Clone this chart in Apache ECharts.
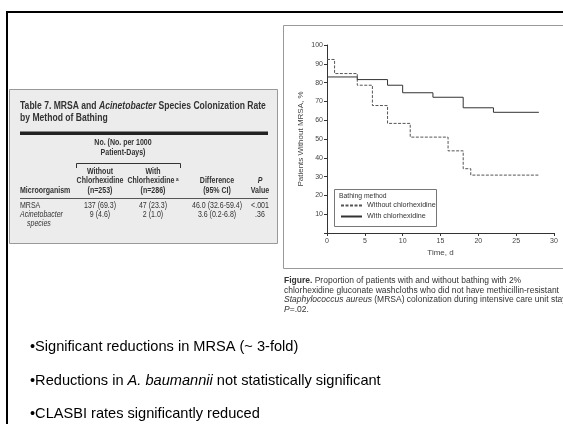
<!DOCTYPE html>
<html>
<head>
<meta charset="utf-8">
<script src="https://cdn.jsdelivr.net/npm/echarts@6/dist/echarts.min.js"></script>
<style>
  html, body { margin: 0; padding: 0; background: #fff; }
  #main { width: 563px; height: 424px; }
</style>
</head>
<body>
<div id="main"></div>
<script>
// Kaplan-Meier curves (time in days, % without MRSA after that time)
var timesWithout = [0, 1, 4, 6, 8, 11, 16, 18, 19, 28];
var survWithout  = [92.3, 84.8, 78.6, 67.8, 58.3, 51, 43.7, 34.2, 30.8, 30.8];
var timesWith    = [0, 4, 8, 10, 14, 18, 22, 28];
var survWith     = [83, 81.6, 78.6, 74.6, 72.2, 66.6, 64.2, 64.2];

// Table 7 rows
var organisms   = ['MRSA', 'Acinetobacter'];
var countsWithout = ['137 (69.3)', '9 (4.6)'];
var countsWith    = ['47 (23.3)', '2 (1.0)'];
var differences   = ['46.0 (32.6-59.4)', '3.6 (0.2-6.8)'];
var pValues       = ['<.001', '.36'];

// bullet points under the figure
var bullets = [
    '{n|\u2022Significant reductions in MRSA (~ 3-fold)}',
    '{n|\u2022Reductions in }{i|A. baumannii}{n| not statistically significant}',
    '{n|\u2022CLASBI rates significantly reduced}'
];

var captionLines = [
    '{b|Figure.}{n| Proportion of patients with and without bathing with 2%}',
    '{n|chlorhexidine gluconate washcloths who did not have methicillin-resistant}',
    '{i|Staphylococcus aureus}{n| (MRSA) colonization during intensive care unit stay.}',
    '{i|P}{n|=.02.}'
];

var narrow = "'Liberation Sans', Arial, sans-serif";
var arial = "'Liberation Sans', Arial, sans-serif";
var squeeze = 0.78;   // fake a condensed face for the table

function zip(xs, ys) {
    return xs.map(function (x, i) { return [x, ys[i]]; });
}

var chart = echarts.init(document.getElementById('main'));

// graphic parts of the slide: frame, table, caption, bullets
var g = [];
// slide frame
g.push({ type: 'line', shape: { x1: 6, y1: 12, x2: 563, y2: 12 }, style: { stroke: '#000', lineWidth: 2 } });
g.push({ type: 'line', shape: { x1: 7, y1: 12, x2: 7, y2: 424 }, style: { stroke: '#000', lineWidth: 2 } });
// figure box
g.push({ type: 'rect', shape: { x: 283.5, y: 25.5, width: 300, height: 243 }, style: { fill: 'none', stroke: '#999', lineWidth: 1 }, z: -1 });

// table box
g.push({ type: 'rect', shape: { x: 9.5, y: 89.5, width: 268, height: 154 }, style: { fill: '#ececec', stroke: '#999', lineWidth: 1 }, z: -1 });
g.push({ type: 'text', x: 20, y: 106, scaleX: squeeze, style: {
    text: '{b|Table 7. MRSA and }{bi|Acinetobacter}{b| Species Colonization Rate}',
    verticalAlign: 'middle',
    rich: {
        b: { font: 'bold 11px ' + narrow, fill: '#333' },
        bi: { font: 'italic bold 11px ' + narrow, fill: '#333' }
    }
} });
g.push({ type: 'text', x: 20, y: 117.5, scaleX: squeeze, style: { text: 'by Method of Bathing', font: 'bold 11px ' + narrow, fill: '#333', verticalAlign: 'middle' } });
g.push({ type: 'rect', shape: { x: 20, y: 131.5, width: 248, height: 3.5 }, style: { fill: '#222' } });

var hdr = 'bold 9px ' + narrow;
var cell = '9px ' + narrow;
function txt(x, y, s, font, align) {
    g.push({ type: 'text', x: x, y: y, scaleX: squeeze, style: { text: s, font: font, fill: '#333', align: align || 'center', verticalAlign: 'middle' } });
}
txt(123, 143, 'No. (No. per 1000', hdr);
txt(123, 152.5, 'Patient-Days)', hdr);
g.push({ type: 'polyline', shape: { points: [[76.5, 168], [76.5, 163.5], [180.5, 163.5], [180.5, 168]] }, style: { stroke: '#333', lineWidth: 1, fill: 'none' } });
txt(100, 172, 'Without', hdr);
txt(100, 181, 'Chlorhexidine', hdr);
txt(100, 190.5, '(n=253)', hdr);
txt(153, 172, 'With', hdr);
g.push({ type: 'text', x: 153, y: 181, scaleX: squeeze, style: {
    text: '{h|Chlorhexidine}{s|a}', align: 'center', verticalAlign: 'middle',
    rich: { h: { font: hdr, fill: '#333' }, s: { font: 'bold 6px ' + narrow, fill: '#333', verticalAlign: 'top', padding: [0, 0, 4, 2] } }
} });
txt(153, 190.5, '(n=286)', hdr);
txt(20, 190.5, 'Microorganism', hdr, 'left');
txt(217, 181, 'Difference', hdr);
txt(217, 190.5, '(95% CI)', hdr);
txt(260, 181, 'P', 'italic bold 9px ' + narrow);
txt(260, 190.5, 'Value', hdr);
g.push({ type: 'line', shape: { x1: 20, y1: 198.5, x2: 268, y2: 198.5 }, style: { stroke: '#555', lineWidth: 1 } });

var rowY = [205.5, 214.5];
organisms.forEach(function (name, i) {
    txt(20, rowY[i], name, (i === 1 ? 'italic ' : '') + cell, 'left');
    txt(100, rowY[i], countsWithout[i], cell);
    txt(153, rowY[i], countsWith[i], cell);
    txt(217, rowY[i], differences[i], cell);
    txt(260, rowY[i], pValues[i], cell);
});
txt(27, 223, 'species', 'italic ' + cell, 'left');

// legend box
g.push({ type: 'rect', shape: { x: 334.5, y: 189.5, width: 102, height: 37 }, style: { fill: '#fff', stroke: '#777', lineWidth: 1 } });
g.push({ type: 'text', x: 339, y: 196, scaleX: 0.85, style: { text: 'Bathing method', font: '8px ' + narrow, fill: '#333', verticalAlign: 'middle' }, z: 10 });

// caption
captionLines.forEach(function (s, i) {
    g.push({ type: 'text', x: 284, y: 281 + i * 9.5, style: {
        text: s, verticalAlign: 'middle',
        rich: {
            n: { font: '8.5px ' + arial, fill: '#333' },
            b: { font: 'bold 8.5px ' + arial, fill: '#333' },
            i: { font: 'italic 8.5px ' + arial, fill: '#333' }
        }
    } });
});

// bullets
bullets.forEach(function (s, i) {
    g.push({ type: 'text', x: 30, y: 347 + i * 33.5, style: {
        text: s, verticalAlign: 'middle',
        rich: {
            n: { font: '14.6px ' + arial, fill: '#000' },
            i: { font: 'italic 14.6px ' + arial, fill: '#000' }
        }
    } });
});

var option = {
    backgroundColor: '#fff',
    animation: false,
    grid: { left: 327, top: 45, width: 227, height: 188 },
    xAxis: {
        type: 'value', min: 0, max: 30, interval: 5,
        name: 'Time, d', nameLocation: 'middle', nameGap: 16,
        nameTextStyle: { fontFamily: narrow, fontSize: 8, color: '#444' },
        axisLine: { lineStyle: { color: '#333', width: 1 } },
        axisTick: { length: 3, lineStyle: { color: '#333' } },
        axisLabel: { fontFamily: narrow, fontSize: 7, color: '#444', margin: 5 },
        splitLine: { show: false }
    },
    yAxis: {
        type: 'value', min: 0, max: 100, interval: 10,
        name: 'Patients Without MRSA, %', nameLocation: 'middle', nameGap: 22,
        nameTextStyle: { fontFamily: narrow, fontSize: 8, color: '#444' },
        axisLine: { show: true, lineStyle: { color: '#333', width: 1 } },
        axisTick: { show: true, length: 3, lineStyle: { color: '#333' } },
        axisLabel: {
            fontFamily: narrow, fontSize: 7, color: '#444', margin: 4,
            formatter: function (v) { return v === 0 ? '' : v; }
        },
        splitLine: { show: false }
    },
    legend: {
        orient: 'vertical', left: 340, top: 202, padding: 0,
        itemWidth: 21, itemHeight: 6, itemGap: 4,
        itemStyle: { opacity: 0 },
        textStyle: { fontFamily: narrow, fontSize: 7.2, color: '#333' },
        data: ['Without chlorhexidine', 'With chlorhexidine'],
        z: 10
    },
    series: [
        {
            name: 'Without chlorhexidine', type: 'line', step: 'end',
            data: zip(timesWithout, survWithout),
            symbol: 'none', color: '#555',
            lineStyle: { color: '#555', width: 1, type: [3, 1.5] }
        },
        {
            name: 'With chlorhexidine', type: 'line', step: 'end',
            data: zip(timesWith, survWith),
            symbol: 'none', color: '#333',
            lineStyle: { color: '#333', width: 1 }
        }
    ],
    graphic: g
};
chart.setOption(option);
</script>
</body>
</html>
